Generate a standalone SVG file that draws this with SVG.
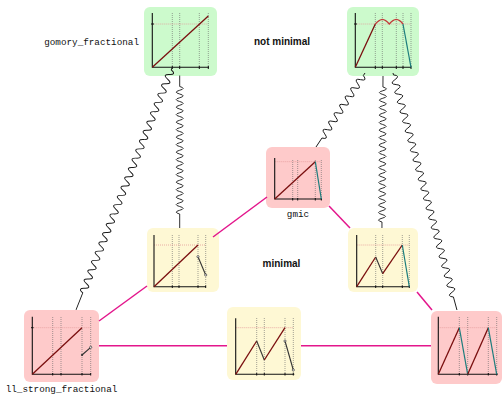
<svg xmlns="http://www.w3.org/2000/svg" width="504" height="395" viewBox="0 0 504 395">
<style>
  .bg-g { fill: #ccfacc; }
  .bg-r { fill: #fecaca; }
  .bg-y { fill: #fef8d4; }
  .ax { stroke: #111; stroke-width: 1.1; fill: none; }
  .tk { stroke: #111; stroke-width: 1; }
  .grid { stroke: #666; stroke-width: 0.6; stroke-dasharray: 1 1; fill: none; }
  .lvl { stroke: #e59a9a; stroke-width: 0.8; stroke-dasharray: 1 1; fill: none; }
  .up { stroke: #7a0f0f; stroke-width: 1.3; fill: none; stroke-linejoin: round; }
  .dn { stroke: #1d7d7d; stroke-width: 1.2; fill: none; }
  .oth { stroke: #333; stroke-width: 1.1; fill: none; }
  .pt { fill: #fff; stroke: #333; stroke-width: 0.7; }
  .lbl { font-family: "Liberation Mono", "DejaVu Sans Mono", monospace; font-size: 9.3px; fill: #111; }
  .cap { font-family: "Liberation Sans", Arial, sans-serif; font-size: 10px; font-weight: bold; fill: #111; }
  .mg { stroke: #e3168c; stroke-width: 1.5; fill: none; }
  .sn { stroke: #1a1a1a; stroke-width: 0.9; fill: none; }
</style>

<!-- function nodes -->
<g id="gomory_fractional">
  <rect class="bg-g" x="144" y="7" width="73" height="69" rx="6"/>
  <path class="grid" d="M172.3,13V67.3 M179.7,13V67.3 M199.3,13V67.3 M208.3,13V67.3"/>
  <path class="lvl" d="M152.3,24H208.3"/>
  <path class="ax" d="M152.3,13V67.3H209"/>
  <path class="tk" d="M172.3,66V69 M179.7,66V69 M199.3,66V69 M208.3,66V69 M151,24H154"/>
  <path class="up" d="M152.3,67.3L208.3,16"/>
  <text class="lbl" x="139" y="45" text-anchor="end">gomory_fractional</text>
</g>

<g id="not_minimal_a">
  <rect class="bg-g" x="347" y="7" width="72" height="69" rx="6"/>
  <path class="grid" d="M375.3,13V67.3 M382.3,13V67.3 M396.3,13V67.3 M403,13V67.3 M411,13V67.3"/>
  <path class="lvl" d="M355.3,24H411"/>
  <path class="ax" d="M355.3,13V67.3H411"/>
  <path class="tk" d="M375.3,66V69 M382.3,66V69 M396.3,66V69 M403,66V69 M411,66V69 M354,24H357"/>
  <path class="up" d="M355.3,67.3L375.3,24"/>
  <path class="up" style="stroke:#c23a3a" d="M375.3,24Q379.5,19.5 382.3,19.3Q385.5,19.5 389.3,24Q393,19.5 396.3,19.3Q399.5,19.5 403,24"/>
  <path class="dn" d="M403,24L411,67.3"/>
</g>

<g id="gmic">
  <rect class="bg-r" x="266" y="147" width="64" height="61" rx="6"/>
  <path class="grid" d="M292.7,160V199 M297.7,160V199 M315.3,160V199 M321.3,160V199"/>
  <path class="lvl" d="M274.7,161.7H321.3"/>
  <path class="ax" d="M274.7,158V199H322"/>
  <path class="tk" d="M292.7,198V200.5 M297.7,198V200.5 M315.3,198V200.5 M321.3,198V200.5"/>
  <path class="up" d="M274.7,199L315.3,161.7"/>
  <path class="dn" d="M315.3,161.7L321.3,199"/>
  <text class="lbl" x="298" y="217" text-anchor="middle">gmic</text>
</g>

<g id="minimal_a">
  <rect class="bg-y" x="147" y="228" width="72" height="64" rx="6"/>
  <path class="grid" d="M172.3,235V286.7 M179,235V286.7 M198,235V286.7 M205.7,235V286.7"/>
  <path class="lvl" d="M154,245H205.7"/>
  <path class="ax" d="M154,235V286.7H206"/>
  <path class="tk" d="M172.3,285.5V288 M179,285.5V288 M198,285.5V288 M205.7,285.5V288"/>
  <path class="up" d="M154,286.7L198,245"/>
  <path class="oth" d="M198,256.7L205.7,275"/>
  <circle class="pt" cx="198" cy="256.7" r="1.1"/>
  <circle class="pt" cx="205.7" cy="275" r="1.1"/>
</g>

<g id="minimal_b">
  <rect class="bg-y" x="348" y="228" width="70" height="64" rx="6"/>
  <path class="grid" d="M375.7,235V286.7 M382.7,235V286.7 M402.3,235V286.7 M409.3,235V286.7"/>
  <path class="lvl" d="M356.7,245H409.3"/>
  <path class="ax" d="M356.7,235V286.7H409.3"/>
  <path class="tk" d="M375.7,285.5V288 M382.7,285.5V288 M402.3,285.5V288 M409.3,285.5V288"/>
  <path class="up" d="M356.7,286.7L375.7,257"/>
  <path class="oth" d="M375.7,257L382.7,273.7"/>
  <path class="up" d="M382.7,273.7L402.3,245"/>
  <path class="dn" d="M402.3,245L409.3,286.7"/>
</g>

<g id="ll_strong_fractional">
  <rect class="bg-r" x="24" y="310" width="75" height="72" rx="6"/>
  <path class="grid" d="M52.7,317V374.3 M61,317V374.3 M82,317V374.3 M90.7,317V374.3"/>
  <path class="lvl" d="M32.3,327.7H90.7"/>
  <path class="ax" d="M32.3,316.7V374.3H90.7"/>
  <path class="tk" d="M52.7,373V375.5 M61,373V375.5 M82,373V375.5 M90.7,373V375.5 M31,327.7H33.6"/>
  <path class="up" d="M32.3,374.3L82,327.7"/>
  <path class="oth" d="M82,355L90.7,347.3"/>
  <circle cx="82" cy="355" r="1.1" fill="#333"/>
  <circle class="pt" cx="90.7" cy="347.3" r="1.1"/>
  <text class="lbl" x="61.5" y="392" text-anchor="middle">ll_strong_fractional</text>
</g>

<g id="minimal_c">
  <rect class="bg-y" x="227" y="307" width="74" height="73" rx="6"/>
  <path class="grid" d="M256.7,318V374.3 M264.3,318V374.3 M285,318V374.3 M293.3,318V374.3"/>
  <path class="lvl" d="M235.7,327.7H293.3"/>
  <path class="ax" d="M235.7,318.3V374.3H294.3"/>
  <path class="tk" d="M256.7,373V375.5 M264.3,373V375.5 M285,373V375.5 M293.3,373V375.5"/>
  <path class="up" d="M235.7,374.3L256.7,341"/>
  <path class="oth" d="M256.7,341L264.3,360"/>
  <path class="up" d="M264.3,360L285,327.7"/>
  <path class="oth" d="M285,341L293.3,370"/>
  <circle class="pt" cx="285" cy="341" r="1.1"/>
  <circle class="pt" cx="293.3" cy="370" r="1.1"/>
</g>

<g id="not_minimal_b">
  <rect class="bg-r" x="431" y="311" width="71" height="73" rx="6"/>
  <path class="grid" d="M459.3,317V374.3 M467.7,317V374.3 M488.3,317V374.3 M496.7,317V374.3"/>
  <path class="lvl" d="M438.3,327.7H496.7"/>
  <path class="ax" d="M438.3,316.7V374.3H497.7"/>
  <path class="tk" d="M459.3,373V375.5 M467.7,373V375.5 M488.3,373V375.5 M496.7,373V375.5"/>
  <path class="up" d="M438.3,374.3L459.3,327.7"/>
  <path class="dn" d="M459.3,327.7L467.7,374.3"/>
  <path class="up" d="M467.7,374.3L488.3,327.7"/>
  <path class="dn" d="M488.3,327.7L496.7,374.3"/>
</g>

<!-- region captions -->
<text class="cap" x="282" y="45" text-anchor="middle">not minimal</text>
<text class="cap" x="281.5" y="266.5" text-anchor="middle">minimal</text>

<!-- connectors -->
<g id="connectors">
  <!-- straight perturbation edges -->
  <path class="mg" d="M267,197L213,237"/>
  <path class="mg" d="M329,206L350,228"/>
  <path class="mg" d="M147,286L99,321"/>
  <path class="mg" d="M417,292L432,310"/>
  <path class="mg" d="M99,345.7H227"/>
  <path class="mg" d="M301,345.7H431"/>

  <!-- wavy limit edges -->
  <path class="sn" transform="translate(172,68) rotate(111.64)"
        d="M0,0h2q2.5,-7 5,0
           t5,0 t5,0 t5,0 t5,0 t5,0 t5,0 t5,0 t5,0 t5,0 t5,0
           t5,0 t5,0 t5,0 t5,0 t5,0 t5,0 t5,0 t5,0 t5,0 t5,0
           t5,0 t5,0 t5,0 t5,0 t5,0 t5,0 t5,0 t5,0 t5,0 t5,0
           t5,0 t5,0 t5,0 t5,0 t5,0 t5,0 t5,0 t5,0 t5,0 t5,0
           t5,0 t5,0 t5,0 t5,0 t5,0 t5,0 t5,0 h18.3"/>
  <path class="sn" transform="translate(179.7,75.5) rotate(90)"
        d="M0,0h11q1.875,-7 3.75,0
           t3.75,0 t3.75,0 t3.75,0 t3.75,0 t3.75,0 t3.75,0 t3.75,0 t3.75,0 t3.75,0 t3.75,0
           t3.75,0 t3.75,0 t3.75,0 t3.75,0 t3.75,0 t3.75,0 t3.75,0 t3.75,0 t3.75,0 t3.75,0
           t3.75,0 t3.75,0 t3.75,0 t3.75,0 t3.75,0 t3.75,0 t3.75,0 t3.75,0 t3.75,0 t3.75,0
           t3.75,0 t3.75,0 t3.75,0 h14"/>
  <path class="sn" transform="translate(365,73) rotate(123.5)"
        d="M0,0h3q2.5,-7 5,0
           t5,0 t5,0 t5,0 t5,0 t5,0 t5,0 t5,0 t5,0 t5,0 t5,0
           t5,0 t5,0 t5,0 t5,0 h10.75"/>
  <path class="sn" transform="translate(383,76) rotate(90.4)"
        d="M0,0h11q1.875,-7 3.75,0
           t3.75,0 t3.75,0 t3.75,0 t3.75,0 t3.75,0 t3.75,0 t3.75,0 t3.75,0 t3.75,0 t3.75,0
           t3.75,0 t3.75,0 t3.75,0 t3.75,0 t3.75,0 t3.75,0 t3.75,0 t3.75,0 t3.75,0 t3.75,0
           t3.75,0 t3.75,0 t3.75,0 t3.75,0 t3.75,0 t3.75,0 t3.75,0 t3.75,0 t3.75,0 t3.75,0
           t3.75,0 t3.75,0 t3.75,0 t3.75,0 t3.75,0 h6"/>
  <path class="sn" transform="translate(393,73) rotate(74.9)"
        d="M0,0h2q2.5,-7 5,0
           t5,0 t5,0 t5,0 t5,0 t5,0 t5,0 t5,0 t5,0 t5,0 t5,0
           t5,0 t5,0 t5,0 t5,0 t5,0 t5,0 t5,0 t5,0 t5,0 t5,0
           t5,0 t5,0 t5,0 t5,0 t5,0 t5,0 t5,0 t5,0 t5,0 t5,0
           t5,0 t5,0 t5,0 t5,0 t5,0 t5,0 t5,0 t5,0 t5,0 t5,0
           t5,0 t5,0 t5,0 t5,0 t5,0 h13.5"/>
</g>
</svg>
